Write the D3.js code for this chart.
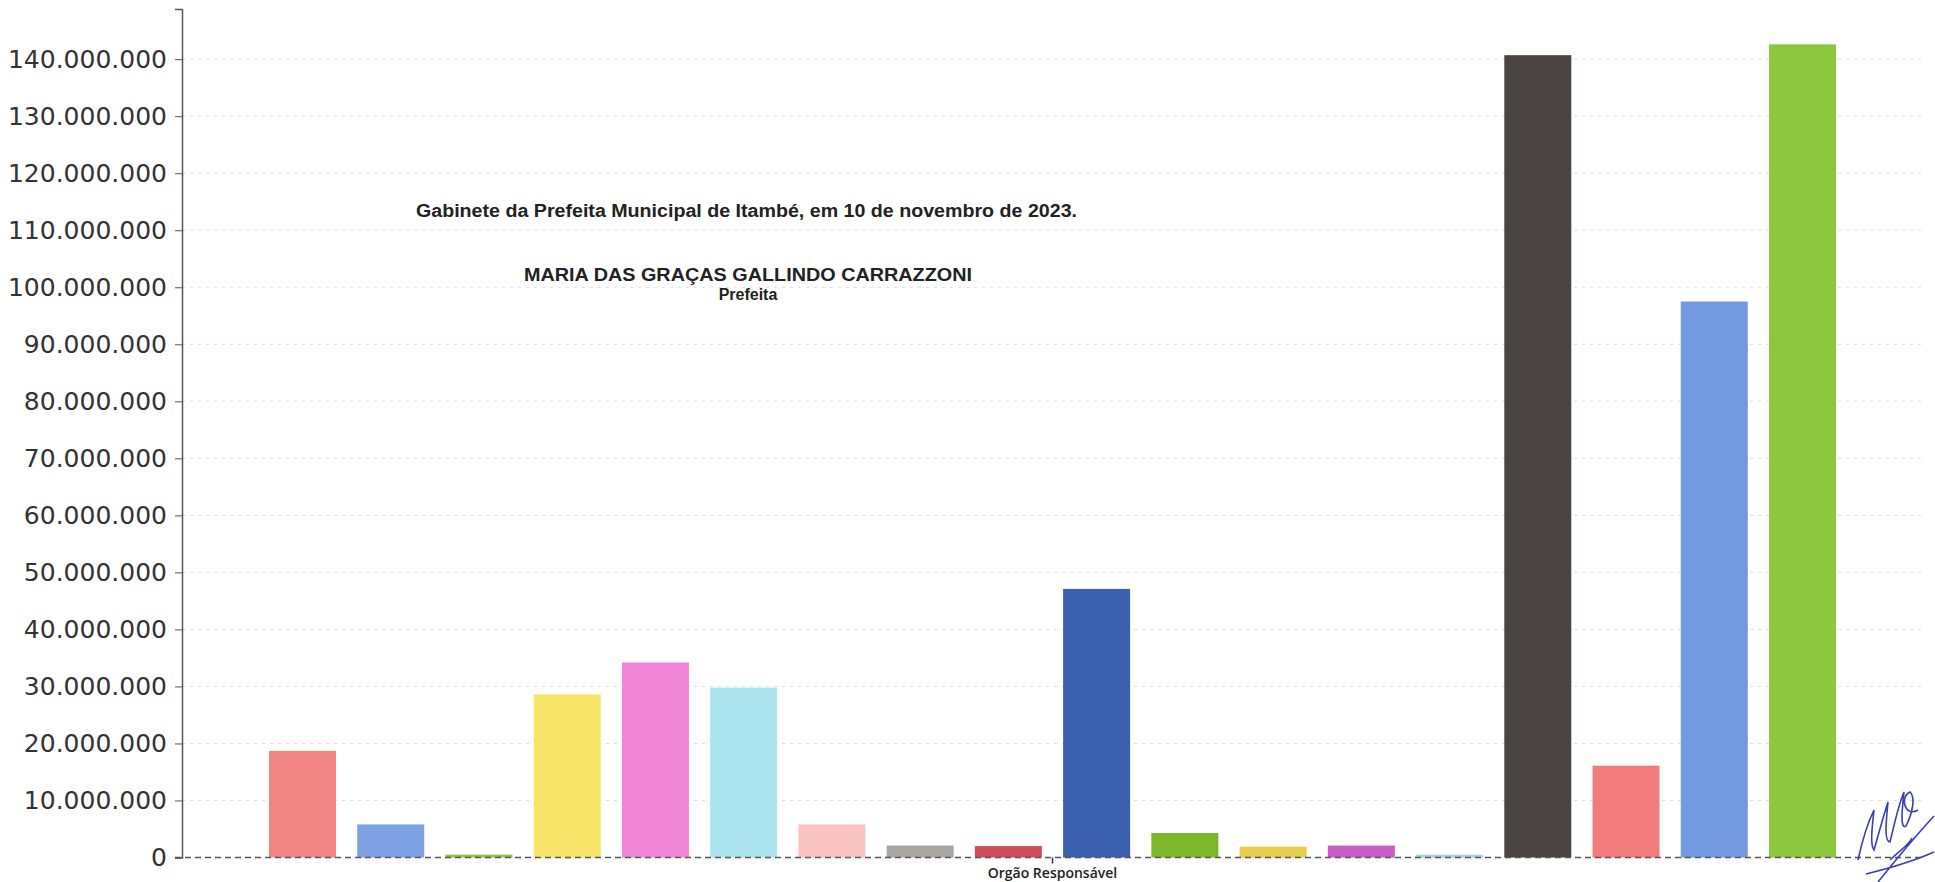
<!DOCTYPE html>
<html>
<head>
<meta charset="utf-8">
<script src="https://cdn.jsdelivr.net/npm/d3@7"></script>
<style>
  html, body { margin: 0; padding: 0; background: #fff; }
  svg { display: block; }
</style>
</head>
<body>
<script>
// data (values in reais)
var categories = ["Orgão Responsável"];
var seriesNames = ["Órgão 1", "Órgão 2", "Órgão 3", "Órgão 4", "Órgão 5", "Órgão 6",
                   "Órgão 7", "Órgão 8", "Órgão 9", "Órgão 10", "Órgão 11", "Órgão 12",
                   "Órgão 13", "Órgão 14", "Órgão 15", "Órgão 16", "Órgão 17", "Órgão 18"];
var seriesValues = [18700000, 5800000, 500000, 28600000, 34200000, 29800000,
                    5800000, 2100000, 2000000, 47100000, 4300000, 1900000,
                    2100000, 500000, 140700000, 16100000, 97500000, 142600000];
var yTicks = [0, 10000000, 20000000, 30000000, 40000000, 50000000, 60000000, 70000000,
              80000000, 90000000, 100000000, 110000000, 120000000, 130000000, 140000000];
var palette = ["#f08584", "#7ea1e3", "#8dc63f", "#f8e468", "#f085d6", "#ace4ef",
               "#f9c3c1", "#aaa6a2", "#cd4b5c", "#3b60b0", "#7cb82a", "#e8cd4e",
               "#c95cc8", "#a9d3e3", "#4a4442", "#f27c7b", "#7399e1", "#8dc63f"];
var noteLines = ["Gabinete da Prefeita Municipal de Itambé, em 10 de novembro de 2023.",
                 "MARIA DAS GRAÇAS GALLINDO CARRAZZONI",
                 "Prefeita"];

var width = 1935, height = 882;
var plotLeft = 182, plotRight = 1923, plotTop = 9, plotBottom = 857.5;

var svg = d3.select("body").append("svg")
    .attr("width", width)
    .attr("height", height);

var ptBR = d3.formatLocale({decimal: ",", thousands: ".", grouping: [3], currency: ["R$", ""]});
var fmt = ptBR.format(",d");

var x0 = d3.scaleBand()
    .domain(categories)
    .range([plotLeft, plotRight]);

var x1 = d3.scaleBand()
    .domain(seriesNames)
    .range([plotLeft, plotRight])
    .paddingInner(0.2407)
    .paddingOuter(0.986);

var y = d3.scaleLinear()
    .domain([0, 148800000])
    .range([plotBottom, plotTop]);

//grid lines
svg.append("g")
    .selectAll("line")
    .data(yTicks.filter(function(d) { return d > 0; }))
    .enter().append("line")
    .attr("x1", plotLeft)
    .attr("x2", plotRight)
    .attr("y1", function(d) { return y(d); })
    .attr("y2", function(d) { return y(d); })
    .style("stroke", "#dcdcdc")
    .style("stroke-width", "1px")
    .style("stroke-dasharray", "3,5");

//bars
svg.append("g")
    .selectAll("rect")
    .data(seriesValues)
    .enter().append("rect")
    .attr("x", function(d, i) { return x1(seriesNames[i]); })
    .attr("y", function(d) { return y(d); })
    .attr("width", x1.bandwidth())
    .attr("height", function(d) { return y(0) - y(d); })
    .style("fill", function(d, i) { return palette[i]; });

//zero line
svg.append("line")
    .attr("x1", plotLeft - 7)
    .attr("x2", plotRight)
    .attr("y1", y(0))
    .attr("y2", y(0))
    .style("stroke", "#555")
    .style("stroke-width", "1.5px")
    .style("stroke-dasharray", "6,4");

//y axis
var yAxis = svg.append("g")
    .attr("transform", "translate(" + plotLeft + ",0)")
    .call(d3.axisLeft(y).tickValues(yTicks).tickFormat(fmt).tickSize(7).tickPadding(8));
yAxis.select(".domain").style("stroke", "#555").style("stroke-width", "1.5px");
yAxis.selectAll(".tick line").style("stroke", "#555");
yAxis.selectAll(".tick text")
    .style("font-family", "'DejaVu Sans', sans-serif")
    .style("font-size", "25px")
    .style("fill", "#333");

//x axis (single category)
var xAxis = svg.append("g")
    .attr("transform", "translate(0," + plotBottom + ")")
    .call(d3.axisBottom(x0).tickSize(6));
xAxis.select(".domain").remove();
xAxis.selectAll(".tick line").style("stroke", "#333").style("stroke-width", "1.5px");
xAxis.selectAll(".tick text")
    .attr("y", 20)
    .attr("dy", "0")
    .style("font-family", "'Open Sans', 'Liberation Sans', sans-serif")
    .style("font-weight", "600")
    .style("font-size", "14px")
    .style("fill", "#222");

//text stamped on the chart
var notes = svg.append("g")
    .style("font-family", "'Liberation Sans', Arial, sans-serif")
    .style("font-weight", "bold")
    .style("fill", "#222");

notes.append("text")
    .attr("x", 416)
    .attr("y", 217)
    .attr("textLength", 661)
    .attr("lengthAdjust", "spacingAndGlyphs")
    .style("font-size", "18px")
    .text(noteLines[0]);

notes.append("text")
    .attr("x", 748)
    .attr("y", 281)
    .attr("text-anchor", "middle")
    .attr("textLength", 448)
    .attr("lengthAdjust", "spacingAndGlyphs")
    .style("font-size", "18px")
    .text(noteLines[1]);

notes.append("text")
    .attr("x", 748)
    .attr("y", 300)
    .attr("text-anchor", "middle")
    .style("font-size", "16px")
    .text(noteLines[2]);

//signature scribble
svg.append("path")
    .attr("d", "M1858,860 C1862,842 1868,822 1874,810 C1872,828 1870,845 1874,850 C1878,836 1884,814 1888,802 C1886,822 1884,842 1890,842 C1894,826 1898,806 1904,792 C1902,810 1900,830 1906,826 C1912,814 1916,798 1910,792 C1900,796 1904,818 1918,810 M1878,882 C1894,862 1912,840 1934,816 M1866,874 C1890,868 1912,862 1934,852 M1890,860 C1900,850 1908,846 1912,838")
    .style("fill", "none")
    .style("stroke", "#3b3fb0")
    .style("stroke-width", "1.6px");
</script>
</body>
</html>
